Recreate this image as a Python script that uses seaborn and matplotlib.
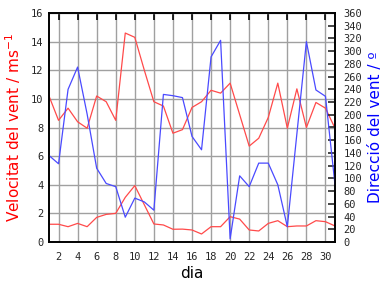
import matplotlib
matplotlib.use("Agg")
import matplotlib.pyplot as plt
import seaborn as sns
import pandas as pd

days = list(range(1, 32))
gust = [10.2, 8.5, 9.35, 8.4, 7.95, 10.2, 9.8, 8.5, 14.6, 14.3, 12.0, 9.8, 9.5, 7.6, 7.85,
        9.4, 9.8, 10.6, 10.4, 11.1, 8.9, 6.7, 7.25, 8.7, 11.1, 7.95, 10.7, 8.0, 9.75, 9.35, 7.95]
mean = [1.24, 1.24, 1.07, 1.3, 1.07, 1.72, 1.93, 2.0, 3.12, 3.94, 2.6, 1.26, 1.19, 0.89, 0.9,
        0.84, 0.56, 1.07, 1.07, 1.77, 1.6, 0.84, 0.77, 1.3, 1.49, 1.07, 1.12, 1.12, 1.49, 1.42, 1.12]
direction = [136, 123, 240, 275, 201, 116, 92, 87, 39, 69, 63, 50, 232, 230, 227, 166, 145,
             291, 317, 5, 104, 87, 124, 124, 90, 24, 170, 315, 239, 229, 90]
xticks = list(range(2, 31, 2))
yticks_left = list(range(0, 17, 2))
yticks_right = list(range(0, 361, 20))

df = pd.DataFrame({"dia": days, "gust": gust, "mean": mean, "dir": direction})

sns.set_style("white")
plt.rcParams["font.family"] = ["DejaVu Sans"]

fig = plt.figure(figsize=(3.84, 2.88), dpi=100)
ax = fig.add_axes([49 / 384, 1 - 242 / 288, (335 - 49) / 384, (242 - 13) / 288])
ax2 = ax.twinx()

red = "#ff4a4a"
blue = "#4a4aff"
sns.lineplot(data=df, x="dia", y="gust", ax=ax, color=red, lw=0.9)
sns.lineplot(data=df, x="dia", y="mean", ax=ax, color=red, lw=0.9)
sns.lineplot(data=df, x="dia", y="dir", ax=ax2, color=blue, lw=0.9)

ax.set_xlim(1, 31)
ax.set_ylim(0, 16)
ax2.set_ylim(0, 360)
ax.set_xticks(xticks)
ax.set_yticks(yticks_left)
ax2.set_yticks(yticks_right)

ax.grid(True, color="#a0a0a0", lw=1)
ax.set_axisbelow(True)
for a in (ax, ax2):
    for s in a.spines.values():
        s.set_color("black")
        s.set_linewidth(1.2)

mono = "DejaVu Sans Mono"
ax.tick_params(axis="x", direction="out", length=5, width=1.2, color="black",
               top=True, labeltop=False, pad=2)
ax.tick_params(axis="x", which="both")
ax.tick_params(axis="y", left=False, length=0, pad=4)
ax2.tick_params(axis="y", direction="in", length=5, width=1.2, right=True, pad=6)
for lab in ax.get_xticklabels() + ax.get_yticklabels() + ax2.get_yticklabels():
    lab.set_fontfamily(mono)
    lab.set_fontsize(7.5)

# top ticks inward
ax.xaxis.set_tick_params(which="major", direction="out")
for t in ax.xaxis.get_major_ticks():
    t.tick2line.set_marker(3)  # TICKDOWN
    t.tick2line.set_markersize(5)

ax.set_xlabel("dia", fontsize=11, color="black", labelpad=3)
ax.set_ylabel("Velocitat del vent / ms$^{-1}$", fontsize=11, color="red", labelpad=6)
ax2.set_ylabel("Direcció del vent / º", fontsize=11, color="blue", labelpad=4)

fig.savefig("out.png", dpi=100)
